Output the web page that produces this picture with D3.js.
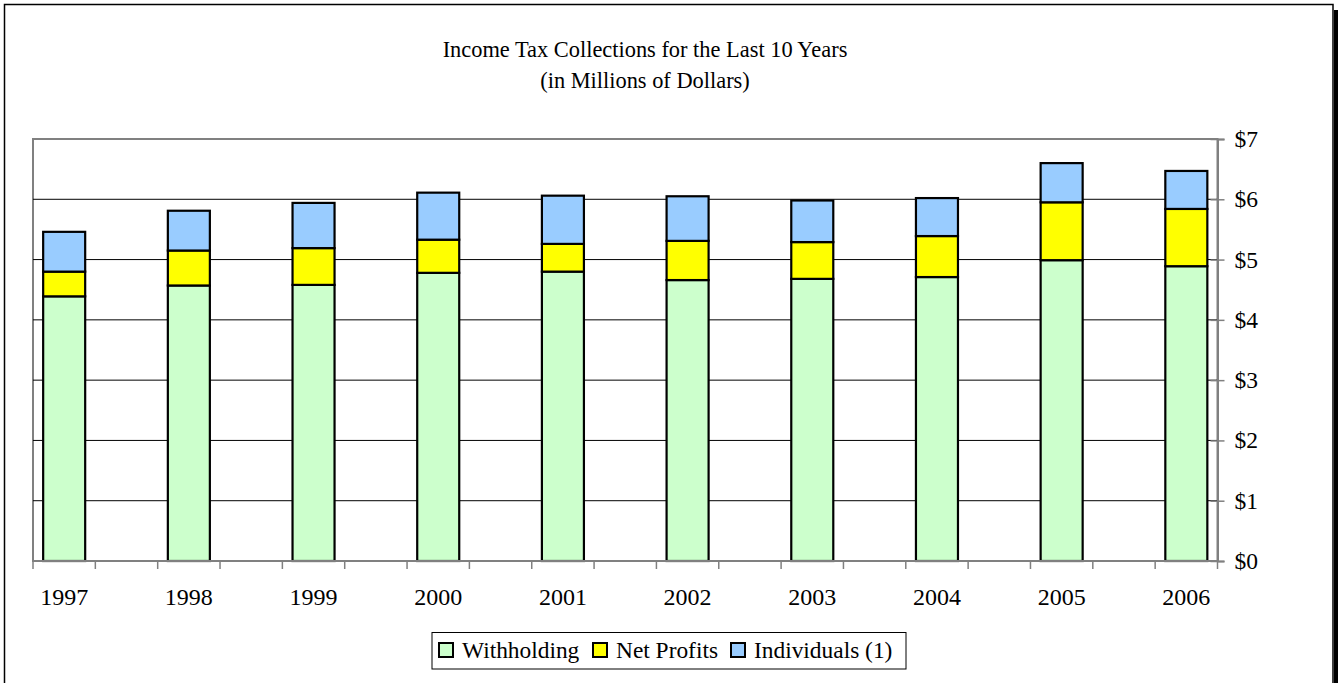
<!DOCTYPE html>
<html>
<head>
<meta charset="utf-8">
<script src="https://cdn.jsdelivr.net/npm/d3@7"></script>
<style>
  html, body { margin: 0; padding: 0; background: #fff; }
  svg { display: block; }
  text { font-family: "Liberation Serif", "Times New Roman", serif; fill: #000; }
</style>
</head>
<body>
<svg id="chart" width="1338" height="683"></svg>
<script>
const years = ["1997","1998","1999","2000","2001","2002","2003","2004","2005","2006"];
const withholding = [4.39, 4.57, 4.58, 4.78, 4.80, 4.66, 4.68, 4.71, 4.99, 4.89];
const netProfits  = [0.41, 0.58, 0.61, 0.55, 0.46, 0.65, 0.61, 0.68, 0.96, 0.95];
const individuals = [0.66, 0.66, 0.75, 0.78, 0.80, 0.74, 0.69, 0.63, 0.65, 0.63];
const seriesNames = ["Withholding", "Net Profits", "Individuals (1)"];
const seriesColors = ["#CCFFCC", "#FFFF00", "#99CCFF"];
const yTicks = [0,1,2,3,4,5,6,7];
const titleLines = ["Income Tax Collections for the Last 10 Years", "(in Millions of Dollars)"];

const svg = d3.select("#chart");
const L = 33, R = 1217.5, T = 139, B = 561;

// outer frame + shadow
svg.append("rect").attr("x", 1334).attr("y", 10).attr("width", 6).attr("height", 700).attr("fill", "#000");
svg.append("rect").attr("x", 4.5).attr("y", 4.5).attr("width", 1328.5).attr("height", 700)
  .attr("fill", "#fff").attr("stroke", "#000").attr("stroke-width", 1.5);

// title
svg.append("text").attr("x", 645).attr("y", 57).attr("text-anchor", "middle")
  .style("font-size", "22.4px").text(titleLines[0]);
svg.append("text").attr("x", 645).attr("y", 88).attr("text-anchor", "middle")
  .style("font-size", "22.4px").text(titleLines[1]);

// slots: year categories with empty slots between them
const slots = [];
years.forEach((y, i) => { slots.push(y); if (i < years.length - 1) slots.push("gap" + i); });
const p = 0.326;
const x = d3.scaleBand().domain(slots).range([L, R]).paddingInner(p).paddingOuter(p / 2);
const y = d3.scaleLinear().domain([0, 7]).range([B, T]);

// plot border (top/left gray)
svg.append("rect").attr("x", L).attr("y", T).attr("width", R - L).attr("height", B - T)
  .attr("fill", "#fff").attr("stroke", "#808080").attr("stroke-width", 2);

// gridlines
svg.append("g").selectAll("line").data(yTicks.filter(t => t > 0 && t < 7)).join("line")
  .attr("x1", L).attr("x2", R).attr("y1", d => y(d)).attr("y2", d => y(d))
  .attr("stroke", "#000").attr("stroke-width", 1);

// stacked data
const rows = years.map((yr, i) => ({ year: yr, w: withholding[i], n: netProfits[i], ind: individuals[i] }));
const stack = d3.stack().keys(["w", "n", "ind"])(rows);

svg.append("g").selectAll("g").data(stack).join("g")
  .attr("fill", (d, i) => seriesColors[i])
  .selectAll("rect").data(d => d).join("rect")
  .attr("x", d => x(d.data.year)).attr("width", x.bandwidth())
  .attr("y", d => y(d[1])).attr("height", d => y(d[0]) - y(d[1]))
  .attr("stroke", "#000").attr("stroke-width", 2.2);

// x axis
const step = x.step();
const xTickPos = d3.range(slots.length + 1).map(i => L + i * step);
const xg = svg.append("g");
xg.append("line").attr("x1", L).attr("x2", R).attr("y1", B).attr("y2", B)
  .attr("stroke", "#808080").attr("stroke-width", 2);
xg.selectAll("line.tick").data(xTickPos).join("line").attr("class", "tick")
  .attr("x1", d => d).attr("x2", d => d).attr("y1", B).attr("y2", B + 8)
  .attr("stroke", "#808080").attr("stroke-width", 1.5);
xg.selectAll("text").data(years).join("text")
  .attr("x", d => x(d) + x.bandwidth() / 2).attr("y", 605)
  .attr("text-anchor", "middle").style("font-size", "24px").text(d => d);

// y axis (right)
const yAxis = d3.axisRight(y).tickValues(yTicks).tickFormat(d => "$" + d).tickSize(7).tickPadding(10);
const yg = svg.append("g").attr("transform", `translate(${R},0)`).call(yAxis);
yg.attr("font-family", null).attr("font-size", null);
yg.select(".domain").attr("stroke", "#808080").attr("stroke-width", 2);
yg.selectAll(".tick line").attr("stroke", "#808080").attr("stroke-width", 1.5).attr("x1", -7);
yg.selectAll(".tick text").style("font-size", "23.5px").style("font-family", "'Liberation Serif', serif");

// legend
const lg = svg.append("g");
lg.append("rect").attr("x", 432).attr("y", 632.5).attr("width", 474).attr("height", 36.5)
  .attr("fill", "#fff").attr("stroke", "#000").attr("stroke-width", 1);
const legendX = [439, 593, 731];
seriesNames.forEach((name, i) => {
  lg.append("rect").attr("x", legendX[i]).attr("y", 643).attr("width", 14).attr("height", 14)
    .attr("fill", seriesColors[i]).attr("stroke", "#000").attr("stroke-width", 2);
  lg.append("text").attr("x", legendX[i] + 23).attr("y", 658).style("font-size", "23.4px").text(name);
});
</script>
</body>
</html>
